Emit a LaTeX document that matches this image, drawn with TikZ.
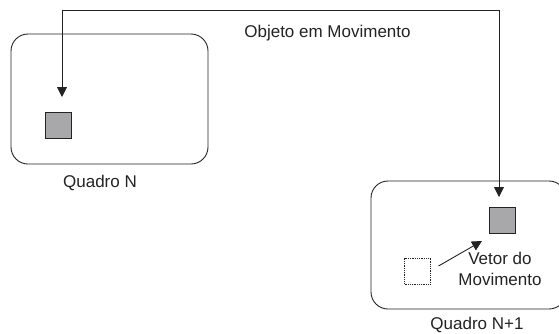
\documentclass[tikz,border=0pt]{standalone}
\usepackage{fontspec}
\setmainfont{Liberation Sans}
\usetikzlibrary{arrows.meta}
\definecolor{boxgray}{RGB}{168,168,170}
\definecolor{ink}{RGB}{35,35,35}
\begin{document}
\begin{tikzpicture}[x=1pt,y=-1pt,
  frame/.style={draw=ink,line width=0.9pt,rounded corners=17pt},
  obj/.style={draw=ink,fill=boxgray,line width=0.9pt,minimum size=26pt,inner sep=0pt},
  ghost/.style={draw=ink,densely dotted,line width=0.8pt,minimum size=26pt,inner sep=0pt},
  lbl/.style={font=\fontsize{17}{21}\selectfont,text=ink,inner sep=0pt,align=center},
  tip/.style={-{Triangle[length=10pt,width=10pt]}}]
\useasboundingbox (0,0) rectangle (559,333);
\draw[frame] (11,34) rectangle (208,164);
\draw[frame] (371,181) rectangle (566,309);
\node[obj] (a) at (58,125) {};
\node[obj] (b) at (502.5,220) {};
\node[ghost] (c) at (417.5,271) {};
\coordinate (ta) at (62,97);
\coordinate (tb) at (499,197);
\draw[ink,line width=0.9pt,{Triangle[length=10pt,width=10pt]}-{Triangle[length=10pt,width=10pt]}] (ta) |- (62,10) -| (tb);
\coordinate (vs) at (438.5,266);
\coordinate (ve) at (482,241);
\draw[ink,line width=0.9pt,tip] (vs) -- (ve);
\node[lbl] (t1) at (327.5,33) {Objeto em Movimento};
\node[lbl] (t2) at (100,183) {Quadro N};
\node[lbl] (t3) at (477,325) {Quadro N+1};
\node[lbl] (t4) at (500,269) {Vetor do\\Movimento};
\end{tikzpicture}
\end{document}
